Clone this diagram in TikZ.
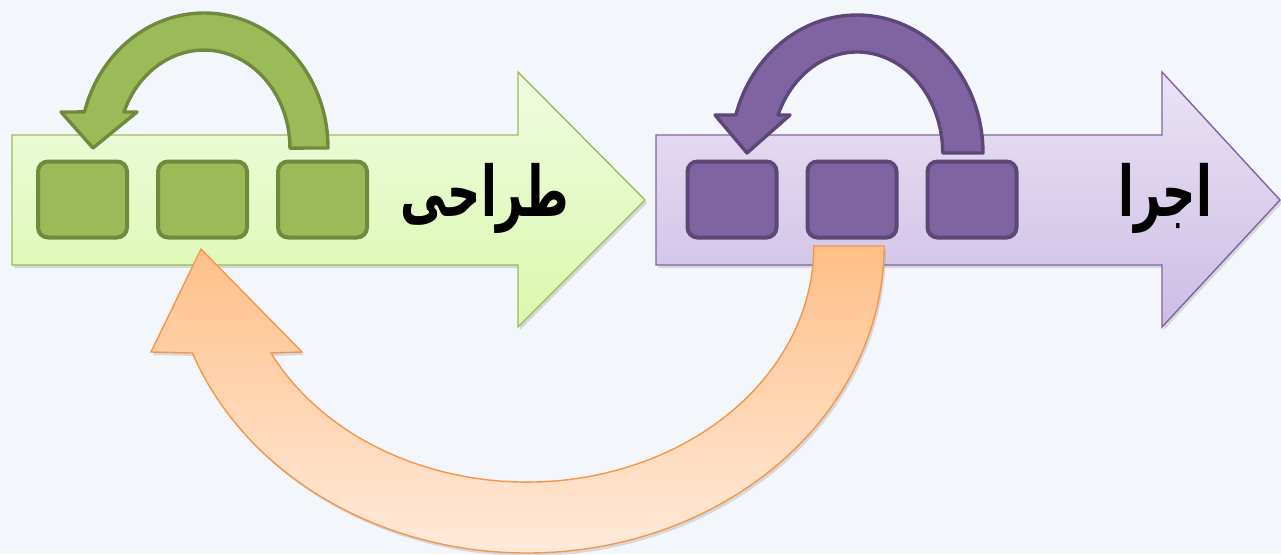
\documentclass[tikz,border=0pt]{standalone}
\usepackage{fontspec}
\usetikzlibrary{positioning,shadows}
\TeXXeTstate=1
\newfontfamily\arabicfont[Script=Arabic]{DejaVu Sans}

\definecolor{bgcol}{HTML}{F3F6FB}
\definecolor{greenlight}{HTML}{F0FBE2}
\definecolor{greenpale}{HTML}{DAF8AC}
\definecolor{greenline}{HTML}{9BBB59}
\definecolor{greenbox}{HTML}{9BBB59}
\definecolor{greendark}{HTML}{71893F}
\definecolor{purplelight}{HTML}{EAE3F5}
\definecolor{purplepale}{HTML}{CDBDE5}
\definecolor{purpleline}{HTML}{8064A2}
\definecolor{purplebox}{HTML}{8064A2}
\definecolor{purpledark}{HTML}{5C4776}
\definecolor{orangetop}{HTML}{FFBF88}
\definecolor{orangebottom}{HTML}{FFEADB}
\definecolor{orangeline}{HTML}{F79646}

\begin{document}
\begin{tikzpicture}[x=0.5pt,y=0.5pt,
	% styles for the big arrows and the boxes
	big arrow/.style={line width=0.7pt, drop shadow={opacity=0.25, shadow xshift=1pt, shadow yshift=-1.5pt}},
	green body/.style={big arrow, draw=greenline, top color=greenlight, bottom color=greenpale},
	purple body/.style={big arrow, draw=purpleline, top color=purplelight, bottom color=purplepale},
	green box/.style={draw=greendark, fill=greenbox, line width=2pt, rounded corners=5pt, minimum width=44.5pt, minimum height=38pt, inner sep=0pt},
	purple box/.style={draw=purpledark, fill=purplebox, line width=2pt, rounded corners=5pt, minimum width=44.5pt, minimum height=38pt, inner sep=0pt},
	green turn/.style={draw=greendark, fill=greenbox, line width=1.7pt, line join=round},
	purple turn/.style={draw=purpledark, fill=purplebox, line width=1.7pt, line join=round},
	back turn/.style={big arrow, draw=orangeline, top color=orangetop, bottom color=orangebottom},
	phase text/.style={font=\arabicfont\bfseries\fontsize{35}{40}\selectfont, inner sep=0pt, xscale=0.66}
	]
	
	% background
	\fill[bgcol] (0,0) rectangle (1281,554);
	\useasboundingbox (0,0) rectangle (1281,554);
	
	% the two phase arrows
	\draw[green body] (12,289) -- (12,419) -- (518,419) -- (518,482) -- (645,354) -- (518,227) -- (518,289) -- cycle;
	\draw[purple body] (656,289) -- (656,419) -- (1162,419) -- (1162,482) -- (1280,354) -- (1162,227) -- (1162,289) -- cycle;
	
	% loops over the boxes
	\draw[green turn] (328,406) arc[start angle=0, end angle=164.5, x radius=124, y radius=135]
		-- (61,442) -- (93,406) -- (137,442) -- (124,442)
		arc[start angle=158.4, end angle=0, x radius=86, y radius=98] -- cycle;
	\draw[purple turn] (983,401) arc[start angle=0, end angle=164, x radius=126, y radius=138]
		-- (715,439) -- (747,401) -- (790,439) -- (778,439)
		arc[start angle=157.9, end angle=0, x radius=85.5, y radius=101] -- cycle;
	
	% boxes
	\node[green box] (g1) at (82.5,354.5) {};
	\node[green box, right=13.5pt of g1] (g2) {};
	\node[green box, right=13.5pt of g2] (g3) {};
	\node[purple box] (p1) at (732,354.5) {};
	\node[purple box, right=13.5pt of p1] (p2) {};
	\node[purple box, right=13.5pt of p2] (p3) {};
	
	% feedback from implementation back to design
	\draw[back turn] (884,308) arc[start angle=0, end angle=-159.6, x radius=357, y radius=307]
		-- (151,202) -- (201,305) -- (302,202) -- (271,201)
		arc[start angle=-153.05, end angle=0, x radius=287, y radius=236] -- cycle;
	
	% labels
	\node[phase text] (design) at (485,356) {\beginR طراحی\endR};
	\node[phase text] (build) at (1165,356) {\beginR اجرا\endR};
\end{tikzpicture}
\end{document}
